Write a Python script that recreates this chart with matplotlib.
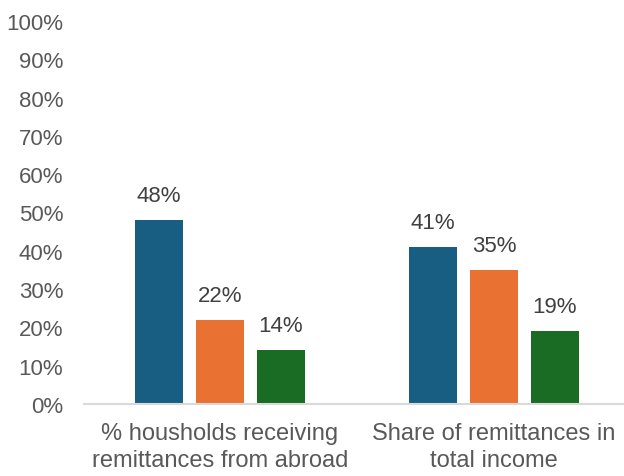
import numpy as np
import matplotlib.pyplot as plt

plt.rcParams['font.family'] = ['Liberation Sans', 'DejaVu Sans']

categories = ["% housholds receiving\nremittances from abroad", "Share of remittances in\ntotal income"]
series_a = [48, 41]
series_b = [22, 35]
series_c = [14, 19]
colors = ["#175E82", "#E97132", "#1A6B24"]
yticks = list(range(0, 101, 10))

fig = plt.figure(figsize=(6.24, 4.77), dpi=100)
ax = fig.add_axes([84/624, 1 - 405/477, 540/624, 383/477])

x = np.arange(len(categories))
w = 0.175
off = 0.222
for i, (vals, c) in enumerate(zip([series_a, series_b, series_c], colors)):
    bars = ax.bar(x + (i - 1) * off, vals, width=w, color=c, zorder=2)
    for b, v in zip(bars, vals):
        ax.annotate(f"{v}%", (b.get_x() + b.get_width() / 2, v), xytext=(0, 10),
                    textcoords="offset points", ha="center", va="bottom",
                    fontsize=16, color="#404040")

ax.set_xlim(-0.496, 1.474)
ax.set_ylim(0, 100)
ax.set_yticks(yticks)
ax.set_yticklabels([f"{t}%" for t in yticks], fontsize=16)
ax.set_xticks(x)
ax.set_xticklabels(categories, linespacing=1.3, fontsize=17)
ax.tick_params(axis="both", length=0, colors="#595959")
ax.tick_params(axis="x", pad=13)
ax.tick_params(axis="y", pad=15)
for s in ["left", "right", "top"]:
    ax.spines[s].set_visible(False)
ax.spines["bottom"].set_color("#D9D9D9")
ax.spines["bottom"].set_linewidth(1.5)

fig.savefig("out.png", dpi=100)
